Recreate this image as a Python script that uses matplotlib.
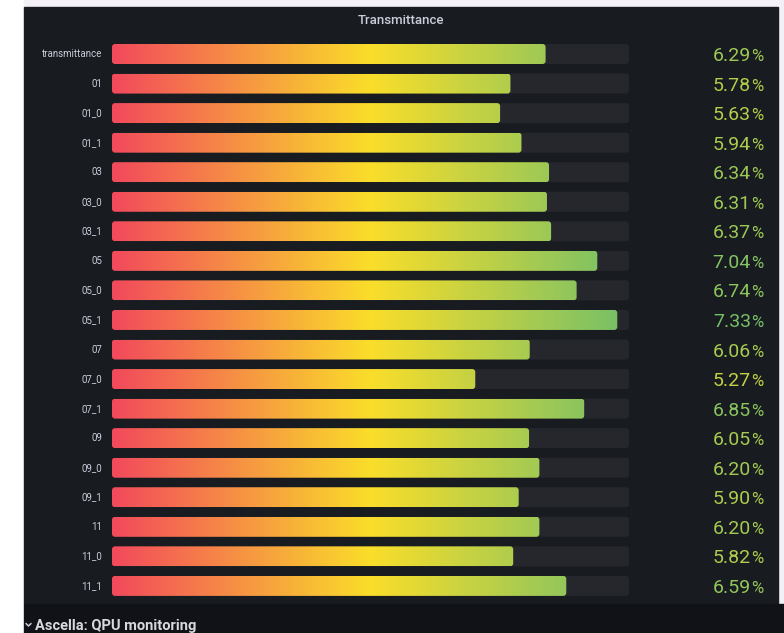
import numpy as np
import matplotlib
matplotlib.use("Agg")
from matplotlib import pyplot as plt
from matplotlib.colors import LinearSegmentedColormap
from matplotlib.patches import FancyBboxPatch, Rectangle

labels = ["transmittance", "01", "01_0", "01_1", "03", "03_0", "03_1",
          "05", "05_0", "05_1", "07", "07_0", "07_1", "09", "09_0",
          "09_1", "11", "11_0", "11_1"]
values = [6.29, 5.78, 5.63, 5.94, 6.34, 6.31, 6.37, 7.04, 6.74, 7.33,
          6.06, 5.27, 6.85, 6.05, 6.20, 5.90, 6.20, 5.82, 6.59]
vmin, vmax = 0.0, 7.5

W, H = 784, 633
plt.rcParams['font.family'] = ['Roboto', 'DejaVu Sans']

# Grafana red-yellow-green continuous scheme
cmap = LinearSegmentedColormap.from_list(
    "rdylgr", ["#F2495C", "#FADE2A", "#73BF69"])

fig = plt.figure(figsize=(W / 100, H / 100), dpi=100)
fig.patch.set_facecolor("#ffffff")

# page background / panels in pixel coordinates
bg = fig.add_axes([0, 0, 1, 1])
bg.set_xlim(0, W)
bg.set_ylim(H, 0)
bg.axis("off")
bg.add_patch(Rectangle((24, 0), W - 24, 604, color="#f3f1f7", zorder=0))
bg.add_patch(Rectangle((24, 7), 754, 597, color="#181b1f", zorder=1))
bg.add_patch(Rectangle((24, 604), W - 24, H - 604, color="#111217", zorder=1))
bg.text(401, 20, "Transmittance", ha="center", va="center",
        fontsize=9.5, color="#ccccdc", fontweight="medium", zorder=3)
# collapse chevron of the row header
bg.plot([26, 28.5, 31], [623.5, 626, 623.5], color="#ccccdc", lw=1.1,
        solid_capstyle="round", zorder=3)
bg.text(35, 626, "Ascella: QPU monitoring", ha="left", va="center",
        fontsize=10.5, color="#d8d9e0", fontweight="bold", zorder=3)

# bar gauge area
x0, x1 = 112, 629
top, pitch = 54 - 29.55 / 2, 29.55
n = len(labels)
ax = fig.add_axes([x0 / W, 1 - (top + n * pitch) / H,
                   (x1 - x0) / W, n * pitch / H])
ax.set_xlim(vmin, vmax)
ax.set_ylim(n - 0.5, -0.5)
ax.axis("off")
ax.patch.set_alpha(0)

bar_h = 20 / pitch
rx = 3 * (vmax - vmin) / (x1 - x0)
aspect = (3 / pitch) / rx
grad = np.linspace(0, 1, 512).reshape(1, -1)

for i, (lab, v) in enumerate(zip(labels, values)):
    y0 = i - bar_h / 2
    track = FancyBboxPatch((vmin, y0), vmax - vmin, bar_h,
                           boxstyle=f"round,pad=0,rounding_size={rx}",
                           mutation_aspect=aspect, facecolor="#25272c",
                           edgecolor="none", zorder=1)
    ax.add_patch(track)
    fill = FancyBboxPatch((vmin, y0), v - vmin, bar_h,
                          boxstyle=f"round,pad=0,rounding_size={rx}",
                          mutation_aspect=aspect, facecolor="none",
                          edgecolor="none", zorder=2)
    ax.add_patch(fill)
    img = ax.imshow(grad, cmap=cmap, aspect="auto", interpolation="bilinear",
                    extent=(vmin, vmax, y0 + bar_h, y0), zorder=2)
    img.set_clip_path(fill)

    yc = top + (i + 0.5) * pitch
    bg.text(102, yc, lab, ha="right", va="center", fontsize=7,
            color="#ccccdc", zorder=3)
    col = cmap((v - vmin) / (vmax - vmin))
    bg.text(763, yc + 7, "%", ha="right", va="baseline", fontsize=12,
            color=col, zorder=3)
    bg.text(751, yc + 7, f"{v:.2f}", ha="right", va="baseline", fontsize=14,
            color=col, zorder=3)

fig.savefig("out.png", dpi=100, facecolor=fig.get_facecolor())
